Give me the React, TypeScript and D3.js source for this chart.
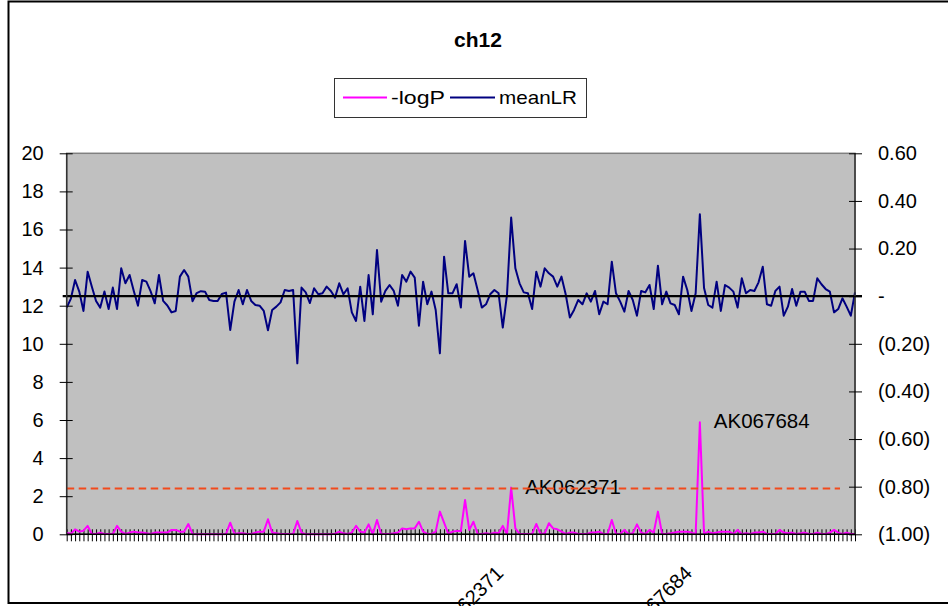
import * as d3 from 'd3'
import { FC, useEffect, useMemo, useRef } from 'react'

const WIDTH = 948
const HEIGHT = 606
const MARGIN = { top: 153.3, right: 93, bottom: 71.7, left: 66.7 }
const FONT = '"Liberation Sans", Arial, sans-serif'

const TITLE = 'ch12'
const SERIES_NAMES = ['-logP', 'meanLR']

// -logP on the left axis
const logP = [
  0.09, 0.02, 0.26, 0.14, 0.19, 0.44, 0.02, 0.02, 0.09, 0.02,
  0.02, 0.02, 0.44, 0.14, 0.02, 0.09, 0.14, 0.09, 0.09, 0.05,
  0.02, 0.09, 0.09, 0.09, 0.09, 0.23, 0.23, 0.14, 0.14, 0.54,
  0.02, 0, 0, 0, 0, 0, 0, 0, 0.02, 0.61,
  0.02, 0.05, 0.05, 0.02, 0.02, 0.09, 0.14, 0.14, 0.79, 0.09,
  0.05, 0.02, 0.02, 0.02, 0.02, 0.7, 0.09, 0, 0, 0,
  0, 0, 0, 0, 0.03, 0.14, 0.05, 0.02, 0.09, 0.44,
  0.14, 0.09, 0.52, 0, 0.75, 0.02, 0.02, 0.02, 0.05, 0.09,
  0.31, 0.26, 0.31, 0.31, 0.66, 0.14, 0.02, 0.02, 0.14, 1.19,
  0.61, 0.02, 0.14, 0.17, 0.17, 1.8, 0.23, 0.66, 0.02, 0.02,
  0.05, 0.02, 0.09, 0.05, 0.44, 0.02, 2.45, 0.31, 0.02, 0.02,
  0.02, 0.02, 0.54, 0.02, 0.05, 0.58, 0.31, 0.26, 0.14, 0.02,
  0.09, 0.09, 0.02, 0.02, 0.02, 0.09, 0.09, 0.14, 0.02, 0.02,
  0.75, 0.02, 0.02, 0.23, 0.02, 0.05, 0.52, 0.09, 0.02, 0.23,
  0.09, 1.19, 0.02, 0.02, 0.05, 0.09, 0.14, 0.14, 0.14, 0.09,
  0.02, 5.88, 0.02, 0.14, 0.05, 0.09, 0.14, 0.14, 0.14, 0.02,
  0.23, 0.02, 0.05, 0.02, 0.09, 0.09, 0.14, 0.02, 0.02, 0.02,
  0.23, 0.09, 0.05, 0.09, 0.02, 0.05, 0.09, 0.02, 0.02, 0.09,
  0.02, 0.02, 0.09, 0.23, 0.09, 0.02, 0.09, 0.02, 0.02,
]

// meanLR on the right axis
const meanLR = [
  -0.048, -0.01, 0.068, 0.019, -0.062, 0.103, 0.04, -0.02, -0.048, 0.02,
  -0.054, 0.036, -0.054, 0.117, 0.054, 0.089, 0.022, -0.04, 0.068, 0.061,
  0.021, -0.03, 0.089, -0.02, -0.039, -0.068, -0.062, 0.082, 0.11, 0.082,
  -0.021, 0.013, 0.021, 0.019, -0.016, -0.02, -0.02, 0.009, 0.015, -0.142,
  -0.023, 0.026, -0.034, 0.026, -0.02, -0.037, -0.04, -0.062, -0.143, -0.058,
  -0.044, -0.026, 0.026, 0.022, 0.026, -0.282, 0.036, 0.016, -0.029, 0.033,
  0.008, 0.012, 0.04, 0.022, -0.006, 0.054, 0.008, 0.033, -0.068, -0.104,
  0.04, -0.104, 0.089, -0.076, 0.194, -0.023, 0.022, 0.047, 0.022, -0.04,
  0.089, 0.061, 0.103, 0.078, -0.124, 0.061, -0.034, 0.019, -0.058, -0.24,
  0.166, 0.012, 0.012, 0.05, -0.048, 0.232, 0.082, 0.096, 0.026, -0.048,
  -0.034, 0.008, 0.026, 0.012, -0.132, 0.005, 0.33, 0.117, 0.054, 0.016,
  0.012, -0.054, 0.103, 0.04, 0.117, 0.096, 0.082, 0.04, 0.082, 0.008,
  -0.09, -0.058, -0.016, -0.034, 0.012, -0.023, 0.022, -0.076, -0.023, -0.034,
  0.145, 0.012, -0.023, -0.065, 0.022, -0.016, -0.082, 0.022, 0.016, 0.047,
  -0.054, 0.128, -0.034, 0.019, -0.03, -0.037, -0.076, 0.082, 0.026, -0.062,
  0.012, 0.344, 0.034, -0.037, -0.048, 0.061, -0.062, 0.047, 0.036, 0.019,
  -0.048, 0.075, 0.012, 0.026, 0.022, 0.058, 0.124, -0.034, -0.04, 0.022,
  0.04, -0.082, -0.044, 0.03, -0.04, 0.019, 0.019, -0.02, -0.02, 0.075,
  0.05, 0.03, 0.019, -0.068, -0.054, -0.009, -0.044, -0.082, 0.016,
]

// only two markers carry a name on the category axis
const MARKER_NAMES = ['AK062371', 'AK067684']
const MARKER_INDEX = [106, 151]
const THRESHOLD = 2.4

const LEFT_TICKS = [0, 2, 4, 6, 8, 10, 12, 14, 16, 18, 20]
const RIGHT_TICKS = [-1, -0.8, -0.6, -0.4, -0.2, 0, 0.2, 0.4, 0.6]

const categories = logP.map((_, i) => i)
const categoryLabel = (i: number) => {
  const k = MARKER_INDEX.indexOf(i)
  return k < 0 ? '' : MARKER_NAMES[k]
}

const fmt2 = d3.format('.2f')
const accounting = (d: number) =>
  Math.abs(d) < 1e-9 ? '-' : d < 0 ? `(${fmt2(-d)})` : fmt2(d)

const App: FC = () => {
  const xAxisRef = useRef<SVGGElement>(null)
  const leftAxisRef = useRef<SVGGElement>(null)
  const rightAxisRef = useRef<SVGGElement>(null)

  const boundsWidth = WIDTH - MARGIN.left - MARGIN.right
  const boundsHeight = HEIGHT - MARGIN.top - MARGIN.bottom

  const xScale = useMemo(
    () => d3.scalePoint<number>().domain(categories).range([0, boundsWidth]).padding(0),
    [boundsWidth]
  )
  const yLeft = useMemo(
    () => d3.scaleLinear().domain([0, 20]).range([boundsHeight, 0]),
    [boundsHeight]
  )
  const yRight = useMemo(
    () => d3.scaleLinear().domain([-1, 0.6]).range([boundsHeight, 0]),
    [boundsHeight]
  )

  useEffect(() => {
    const left = d3.select(leftAxisRef.current)
    left.selectAll('*').remove()
    left.call(d3.axisLeft(yLeft).tickValues(LEFT_TICKS).tickSize(7).tickPadding(16).tickFormat(d3.format('d')))
    left.select('.domain').remove()
    left.selectAll('.tick line').attr('x1', 6).attr('stroke', '#000')
    left.selectAll('.tick text').attr('font-size', 20).attr('font-family', FONT).attr('fill', '#000')

    const right = d3.select(rightAxisRef.current)
    right.selectAll('*').remove()
    right.call(d3.axisRight(yRight).tickValues(RIGHT_TICKS).tickSize(7).tickPadding(16).tickFormat((d) => accounting(+d)))
    right.select('.domain').remove()
    right.selectAll('.tick line').attr('x1', -6).attr('stroke', '#000')
    right.selectAll('.tick text').attr('font-size', 20).attr('font-family', FONT).attr('fill', '#000')

    const bottom = d3.select(xAxisRef.current)
    bottom.selectAll('*').remove()
    bottom.call(d3.axisBottom(xScale).tickSize(7).tickFormat((d) => categoryLabel(d as number)))
    bottom.select('.domain').remove()
    bottom.selectAll('.tick line').attr('y1', -5).attr('stroke', '#000')
    bottom
      .selectAll('.tick text')
      .attr('font-size', 20)
      .attr('font-family', FONT)
      .attr('fill', '#000')
      .attr('y', 0)
      .attr('dy', 0)
      .attr('text-anchor', 'end')
      .attr('transform', 'translate(-7,40) rotate(-45)')
  }, [xScale, yLeft, yRight])

  const meanPath = d3
    .line<number>()
    .x((_, i) => xScale(i) as number)
    .y((d) => yRight(d))(meanLR)

  const logPPath = d3
    .line<number>()
    .x((_, i) => xScale(i) as number)
    .y((d) => yLeft(d))(logP)

  const legendX = 334
  const legendY = 78

  return (
    <svg
      width={WIDTH}
      height={HEIGHT}
      style={{ position: 'absolute', left: 0, top: 0, background: '#fff' }}
      fontFamily={FONT}
    >
      <rect x={8.5} y={1.5} width={960} height={601.5} fill='#fff' stroke='#000' strokeWidth={2} />

      <text x={478} y={47} textAnchor='middle' fontSize={21} fontWeight='bold'>
        {TITLE}
      </text>

      {/* legend */}
      <g transform={`translate(${legendX},${legendY})`}>
        <rect x={0.5} y={0.5} width={252} height={39} fill='#fff' stroke='#333' strokeWidth={1} />
        <line x1={9} x2={53} y1={19.5} y2={19.5} stroke='#ff00ff' strokeWidth={2} />
        <text x={57} y={19.5} dy='0.35em' fontSize={19} textLength={54} lengthAdjust='spacingAndGlyphs'>
          {SERIES_NAMES[0]}
        </text>
        <line x1={116} x2={161} y1={19.5} y2={19.5} stroke='#000080' strokeWidth={2} />
        <text x={165} y={19.5} dy='0.35em' fontSize={19} textLength={78} lengthAdjust='spacingAndGlyphs'>
          {SERIES_NAMES[1]}
        </text>
      </g>

      <g transform={`translate(${MARGIN.left},${MARGIN.top})`}>
        <rect x={0} y={0} width={boundsWidth} height={boundsHeight} fill='#c0c0c0' stroke='#808080' strokeWidth={1.5} />

        <path d={meanPath as string} fill='none' stroke='#000080' strokeWidth={2} strokeLinejoin='round' />

        <g ref={xAxisRef} transform={`translate(0,${boundsHeight})`} />

        <path d={logPPath as string} fill='none' stroke='#ff00ff' strokeWidth={2} strokeLinejoin='round' />

        <line x1={-4} x2={boundsWidth + 7} y1={yRight(0)} y2={yRight(0)} stroke='#000' strokeWidth={2.2} />

        {MARKER_INDEX.map((idx, k) => (
          <text
            key={MARKER_NAMES[k]}
            x={(xScale(idx) as number) + 14}
            y={yLeft(logP[idx]) + 6}
            fontSize={20.5}
            fill='#000'
          >
            {MARKER_NAMES[k]}
          </text>
        ))}

        <line
          x1={0}
          x2={boundsWidth - 15}
          y1={yLeft(THRESHOLD)}
          y2={yLeft(THRESHOLD)}
          stroke='#f24a1c'
          strokeWidth={2}
          strokeDasharray='7.5 4.5'
        />

        <line x1={0} x2={0} y1={0} y2={boundsHeight} stroke='#333' strokeWidth={1.5} />
        <line x1={boundsWidth} x2={boundsWidth} y1={0} y2={boundsHeight} stroke='#333' strokeWidth={1.5} />
        <line x1={0} x2={boundsWidth} y1={boundsHeight} y2={boundsHeight} stroke='#000' strokeWidth={1.5} />

        <g ref={leftAxisRef} />
        <g ref={rightAxisRef} transform={`translate(${boundsWidth},0)`} />
      </g>
    </svg>
  )
}

export default App
